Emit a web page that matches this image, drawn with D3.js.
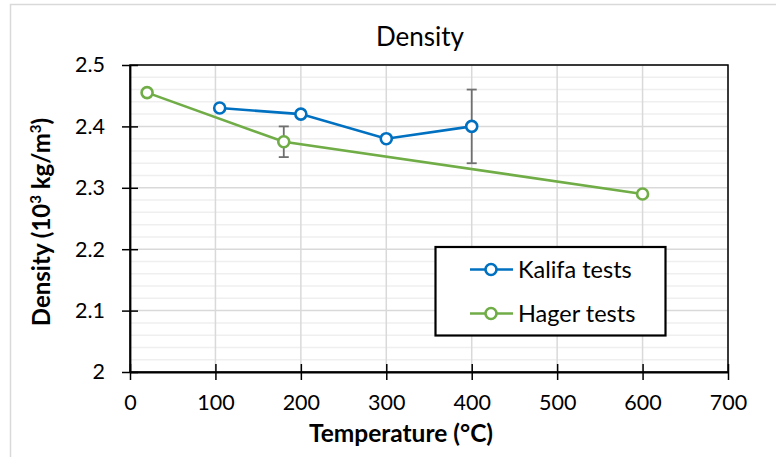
<!DOCTYPE html>
<html><head><meta charset="utf-8">
<script src="https://cdn.jsdelivr.net/npm/d3@7"></script>
<style>body{margin:0;background:#fff;} svg{display:block;}</style>
</head><body>
<script>
const kalifaTemp = [105, 200, 300, 400];
const kalifaDensity = [2.43, 2.42, 2.38, 2.40];
const kalifaErrLow = [null, null, null, 2.34];
const kalifaErrHigh = [null, null, null, 2.46];
const hagerTemp = [20, 180, 600];
const hagerDensity = [2.455, 2.375, 2.29];
const hagerErrLow = [null, 2.35, null];
const hagerErrHigh = [null, 2.40, null];
const xTicks = [0, 100, 200, 300, 400, 500, 600, 700];
const yTicks = [2, 2.1, 2.2, 2.3, 2.4, 2.5];
const seriesNames = ["Kalifa tests", "Hager tests"];
const seriesColors = ["#0070C0", "#70AD47"];

const W = 776, H = 457;
const font = "Lato, 'Open Sans', sans-serif";
const svg = d3.select("body").append("svg").attr("width", W).attr("height", H);
svg.append("rect").attr("x", 0).attr("y", 0).attr("width", W).attr("height", H).attr("fill", "#fff");
// chart border
svg.append("path").attr("d", `M10.5,${H} V4.5 H${W}`).attr("fill", "none").attr("stroke", "#d9d9d9").attr("stroke-width", 1.5);

const L = 130, R = 728, T = 65, B = 372;
const x = d3.scaleLinear().domain([0, 700]).range([L, R]);
const y = d3.scaleLinear().domain([2, 2.5]).range([B, T]);

// minor horizontal grid
const minor = d3.range(2, 2.5001, 0.02).filter(v => Math.abs(v * 10 - Math.round(v * 10)) > 1e-6);
svg.append("g").selectAll("line").data(minor).join("line")
  .attr("x1", L).attr("x2", R).attr("y1", d => y(d)).attr("y2", d => y(d))
  .attr("stroke", "#efefef").attr("stroke-width", 1.5);
// major grid
svg.append("g").selectAll("line").data(yTicks).join("line")
  .attr("x1", L).attr("x2", R).attr("y1", d => y(d)).attr("y2", d => y(d))
  .attr("stroke", "#d9d9d9").attr("stroke-width", 1.5);
svg.append("g").selectAll("line").data(xTicks).join("line")
  .attr("y1", T).attr("y2", B).attr("x1", d => x(d)).attr("x2", d => x(d))
  .attr("stroke", "#d9d9d9").attr("stroke-width", 1.5);

// plot box
svg.append("rect").attr("x", L).attr("y", T).attr("width", R - L).attr("height", B - T)
  .attr("fill", "none").attr("stroke", "#000").attr("stroke-width", 1.5);

const tickFs = 21.5;
// axes
const xAxis = svg.append("g").attr("transform", `translate(0,${B})`)
  .call(d3.axisBottom(x).tickValues(xTicks).tickFormat(d3.format("d")).tickSizeInner(8).tickSizeOuter(0).tickPadding(15));
xAxis.selectAll(".tick line").attr("y1", -8).attr("stroke-width", 1.5);
xAxis.select(".domain").attr("stroke-width", 1.8);
xAxis.selectAll("text").attr("font-family", font).attr("font-size", tickFs).attr("fill", "#000");

const yAxis = svg.append("g").attr("transform", `translate(${L},0)`)
  .call(d3.axisLeft(y).tickValues(yTicks).tickFormat(d => d === 2 ? "2" : d3.format(".1f")(d)).tickSizeInner(8).tickSizeOuter(0).tickPadding(17));
yAxis.selectAll(".tick line").attr("x1", 8).attr("stroke-width", 1.5);
yAxis.select(".domain").attr("stroke-width", 1.8);
yAxis.selectAll("text").attr("font-family", font).attr("font-size", tickFs).attr("fill", "#000");

// titles
svg.append("text").attr("x", 420).attr("y", 46).attr("text-anchor", "middle")
  .attr("font-family", font).attr("font-size", 26).attr("fill", "#000").text("Density");
svg.append("text").attr("x", 401).attr("y", 442).attr("text-anchor", "middle")
  .attr("font-family", font).attr("font-size", 24.5).attr("font-weight", "bold").attr("fill", "#000").text("Temperature (°C)");
const yt = svg.append("text").attr("transform", "translate(50,222) rotate(-90)").attr("text-anchor", "middle")
  .attr("font-family", font).attr("font-size", 24).attr("font-weight", "bold").attr("fill", "#000");
yt.append("tspan").text("Density (10");
yt.append("tspan").attr("baseline-shift", "super").attr("font-size", 15).text("3");
yt.append("tspan").text(" kg/m");
yt.append("tspan").attr("baseline-shift", "super").attr("font-size", 15).text("3");
yt.append("tspan").text(")");

// error bars
function errBars(temps, lo, hi) {
  const g = svg.append("g").attr("stroke", "#6f6f6f").attr("stroke-width", 1.8).attr("fill", "none");
  temps.forEach((t, i) => {
    if (lo[i] == null) return;
    g.append("line").attr("x1", x(t)).attr("x2", x(t)).attr("y1", y(lo[i])).attr("y2", y(hi[i]));
    g.append("line").attr("x1", x(t) - 5).attr("x2", x(t) + 5).attr("y1", y(lo[i])).attr("y2", y(lo[i]));
    g.append("line").attr("x1", x(t) - 5).attr("x2", x(t) + 5).attr("y1", y(hi[i])).attr("y2", y(hi[i]));
  });
}
errBars(kalifaTemp, kalifaErrLow, kalifaErrHigh);
errBars(hagerTemp, hagerErrLow, hagerErrHigh);

function series(temps, vals, color) {
  const pts = temps.map((t, i) => [t, vals[i]]);
  svg.append("path").datum(pts)
    .attr("d", d3.line().x(d => x(d[0])).y(d => y(d[1])))
    .attr("fill", "none").attr("stroke", color).attr("stroke-width", 2.6);
  svg.append("g").selectAll("circle").data(pts).join("circle")
    .attr("cx", d => x(d[0])).attr("cy", d => y(d[1])).attr("r", 5.5)
    .attr("fill", "#fff").attr("stroke", color).attr("stroke-width", 2.6);
}
series(hagerTemp, hagerDensity, seriesColors[1]);
series(kalifaTemp, kalifaDensity, seriesColors[0]);

// legend
const lg = svg.append("g");
lg.append("rect").attr("x", 435.5).attr("y", 247).attr("width", 230).attr("height", 88.5)
  .attr("fill", "#fff").attr("stroke", "#000").attr("stroke-width", 2.2);
seriesNames.forEach((name, i) => {
  const cy = 269.5 + i * 44;
  lg.append("line").attr("x1", 470).attr("x2", 513).attr("y1", cy).attr("y2", cy)
    .attr("stroke", seriesColors[i]).attr("stroke-width", 2.6);
  lg.append("circle").attr("cx", 491).attr("cy", cy).attr("r", 5.5)
    .attr("fill", "#fff").attr("stroke", seriesColors[i]).attr("stroke-width", 2.6);
  lg.append("text").attr("x", 518).attr("y", cy).attr("dy", "0.35em")
    .attr("font-family", font).attr("font-size", 23.5).attr("fill", "#000").text(name);
});
</script>
</body></html>
